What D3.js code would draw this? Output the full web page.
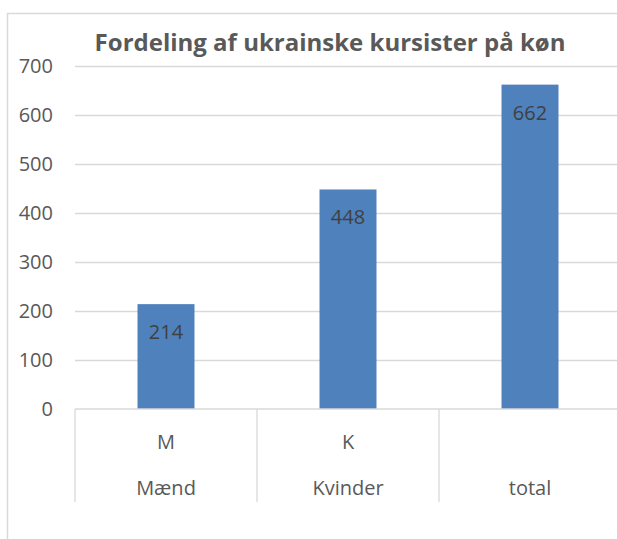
<!DOCTYPE html>
<html>
<head>
<meta charset="utf-8">
<script src="https://cdn.jsdelivr.net/npm/d3@7"></script>
<style>
  body { margin: 0; background: #fff; }
  svg { display: block; font-family: "Open Sans", sans-serif; }
</style>
</head>
<body>
<div id="chart"></div>
<script>
// data
var chartTitle = "Fordeling af ukrainske kursister på køn";
var subLabels = ["M", "K", ""];
var groupLabels = ["Mænd", "Kvinder", "total"];
var values = [214, 448, 662];
var yTicks = [0, 100, 200, 300, 400, 500, 600, 700];

var W = 617, H = 539;
var plot = { left: 75, right: 621, top: 66, bottom: 409 };

var svg = d3.select("#chart").append("svg")
    .attr("width", W)
    .attr("height", H);

// outer frame (cut off at right and bottom)
svg.append("rect")
    .attr("x", 7.5).attr("y", 13.5)
    .attr("width", 700).attr("height", 700)
    .attr("fill", "#fff")
    .attr("stroke", "#d9d9d9")
    .attr("stroke-width", 1.5);

var xScale = d3.scaleBand()
    .domain(d3.range(values.length))
    .range([plot.left, plot.right])
    .paddingInner(0.687)
    .paddingOuter(0.3435);

var yScale = d3.scaleLinear()
    .domain([0, 700])
    .range([plot.bottom, plot.top]);

// gridlines
svg.append("g")
    .attr("class", "grid")
    .attr("transform", "translate(" + plot.left + ",0)")
    .call(d3.axisLeft(yScale).tickValues(yTicks.slice(1)).tickSize(-(plot.right - plot.left)).tickFormat(""))
    .call(function (g) { g.select(".domain").remove(); })
    .selectAll("line")
    .attr("stroke", "#d9d9d9")
    .attr("stroke-width", 1.3);

// y labels
var yAxis = svg.append("g")
    .attr("transform", "translate(" + (plot.left - 22) + ",0)")
    .call(d3.axisLeft(yScale).tickValues(yTicks).tickSize(0).tickPadding(0));
yAxis.select(".domain").remove();
yAxis.selectAll("text")
    .attr("fill", "#595959")
    .style("font-size", "20px")
    .style("font-family", "'Open Sans', sans-serif");

// bars
svg.append("g").selectAll("rect")
    .data(values)
    .enter().append("rect")
    .attr("x", function (d, i) { return xScale(i); })
    .attr("y", function (d) { return yScale(d); })
    .attr("width", xScale.bandwidth())
    .attr("height", function (d) { return yScale(0) - yScale(d); })
    .attr("fill", "#4f81bd");

// data labels
svg.append("g").selectAll("text")
    .data(values)
    .enter().append("text")
    .attr("x", function (d, i) { return xScale(i) + xScale.bandwidth() / 2; })
    .attr("y", function (d) { return yScale(d) + 28; })
    .attr("text-anchor", "middle")
    .attr("dy", "0.35em")
    .attr("fill", "#404040")
    .style("font-size", "20px")
    .text(function (d) { return d; });

// category axis: baseline and dividers
var step = xScale.step();
svg.append("line")
    .attr("x1", plot.left).attr("x2", plot.right)
    .attr("y1", plot.bottom).attr("y2", plot.bottom)
    .attr("stroke", "#d9d9d9").attr("stroke-width", 1.3);

svg.append("g").selectAll("line")
    .data(d3.range(values.length + 1))
    .enter().append("line")
    .attr("x1", function (i) { return plot.left + i * step; })
    .attr("x2", function (i) { return plot.left + i * step; })
    .attr("y1", plot.bottom)
    .attr("y2", 502)
    .attr("stroke", "#d9d9d9")
    .attr("stroke-width", 1.3);

svg.append("g").selectAll("text")
    .data(subLabels)
    .enter().append("text")
    .attr("x", function (d, i) { return xScale(i) + xScale.bandwidth() / 2; })
    .attr("y", 442)
    .attr("dy", "0.35em")
    .attr("text-anchor", "middle")
    .attr("fill", "#595959")
    .style("font-size", "20px")
    .text(function (d) { return d; });

svg.append("g").selectAll("text")
    .data(groupLabels)
    .enter().append("text")
    .attr("x", function (d, i) { return xScale(i) + xScale.bandwidth() / 2; })
    .attr("y", 488)
    .attr("dy", "0.35em")
    .attr("text-anchor", "middle")
    .attr("fill", "#595959")
    .style("font-size", "20px")
    .text(function (d) { return d; });

// title
svg.append("text")
    .attr("x", 330)
    .attr("y", 43)
    .attr("dy", "0.35em")
    .attr("text-anchor", "middle")
    .attr("fill", "#595959")
    .style("font-size", "24px")
    .style("font-weight", "bold")
    .text(chartTitle);
</script>
</body>
</html>
